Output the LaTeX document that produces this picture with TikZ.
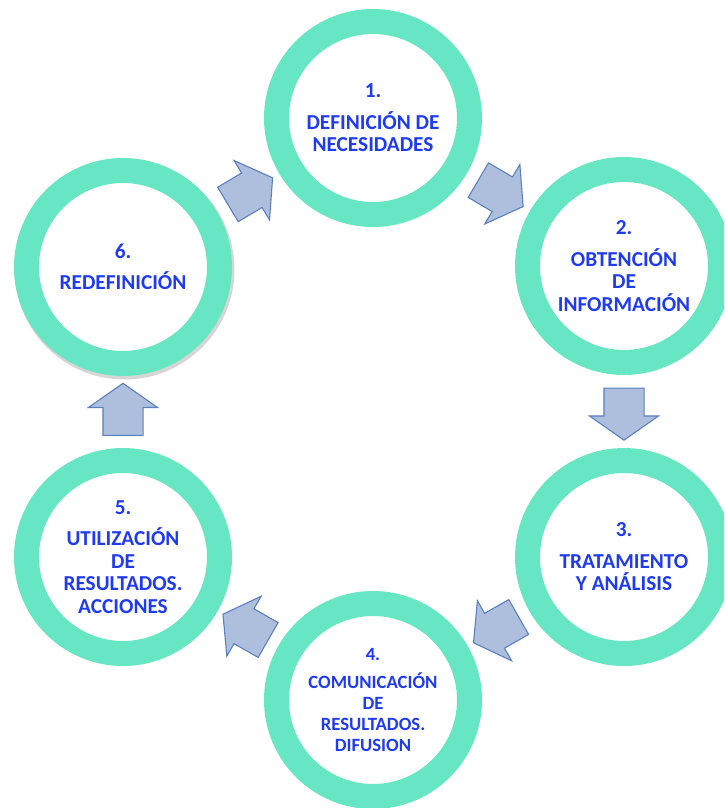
\documentclass[tikz,border=0pt]{standalone}
\usepackage{fontspec}
\setmainfont{Carlito}
\usetikzlibrary{shapes.arrows}
\definecolor{mint}{HTML}{66E6C3}
\definecolor{txtblue}{HTML}{1F3BF2}
\definecolor{arrfill}{HTML}{AEBFDD}
\definecolor{arrline}{HTML}{5A80C0}
\begin{document}
\begin{tikzpicture}[x=1pt,y=-1pt,
  stage/.style={circle, draw=mint, fill=white, line width=25pt, minimum size=193pt, inner sep=0pt,
    align=center, text=txtblue, font=\bfseries\fontsize{21.3}{22.5}\selectfont},
  smallstage/.style={stage, font=\bfseries\fontsize{18.7}{21}\selectfont},
  blockarrow/.style={single arrow, draw=arrline, fill=arrfill, line width=1.1pt,
    minimum height=52pt, single arrow head extend=14.5pt, single arrow tip angle=110,
    inner xsep=0pt, inner ysep=19.5pt, sloped, allow upside down, pos=0.44}]
\useasboundingbox (0,0) rectangle (724,808);
\clip (0,0) rectangle (724,808);
\fill[black, opacity=0.16] (124.5,269.5) circle[radius=110];
\node[stage] (s1) at (373,118) {1.\\[9pt]DEFINICIÓN DE\\NECESIDADES};
\node[stage] (s2) at (624,266) {2.\\[9pt]OBTENCIÓN\\DE\\INFORMACIÓN};
\node[stage] (s3) at (624,557) {3.\\[9pt]TRATAMIENTO\\Y ANÁLISIS};
\node[smallstage] (s4) at (373,700) {4.\\[7pt]COMUNICACIÓN\\DE\\RESULTADOS.\\DIFUSION};
\node[stage] (s5) at (123,557) {5.\\[9pt]UTILIZACIÓN\\DE\\RESULTADOS.\\ACCIONES};
\node[stage] (s6) at (123,267) {6.\\[9pt]REDEFINICIÓN};
\path (s6) -- node[blockarrow] (a61) {} (s1);
\path (s1) -- node[blockarrow] (a12) {} (s2);
\path (s2) -- node[blockarrow] (a23) {} (s3);
\path (s3) -- node[blockarrow] (a34) {} (s4);
\path (s4) -- node[blockarrow] (a45) {} (s5);
\path (s5) -- node[blockarrow] (a56) {} (s6);
\end{tikzpicture}
\end{document}
